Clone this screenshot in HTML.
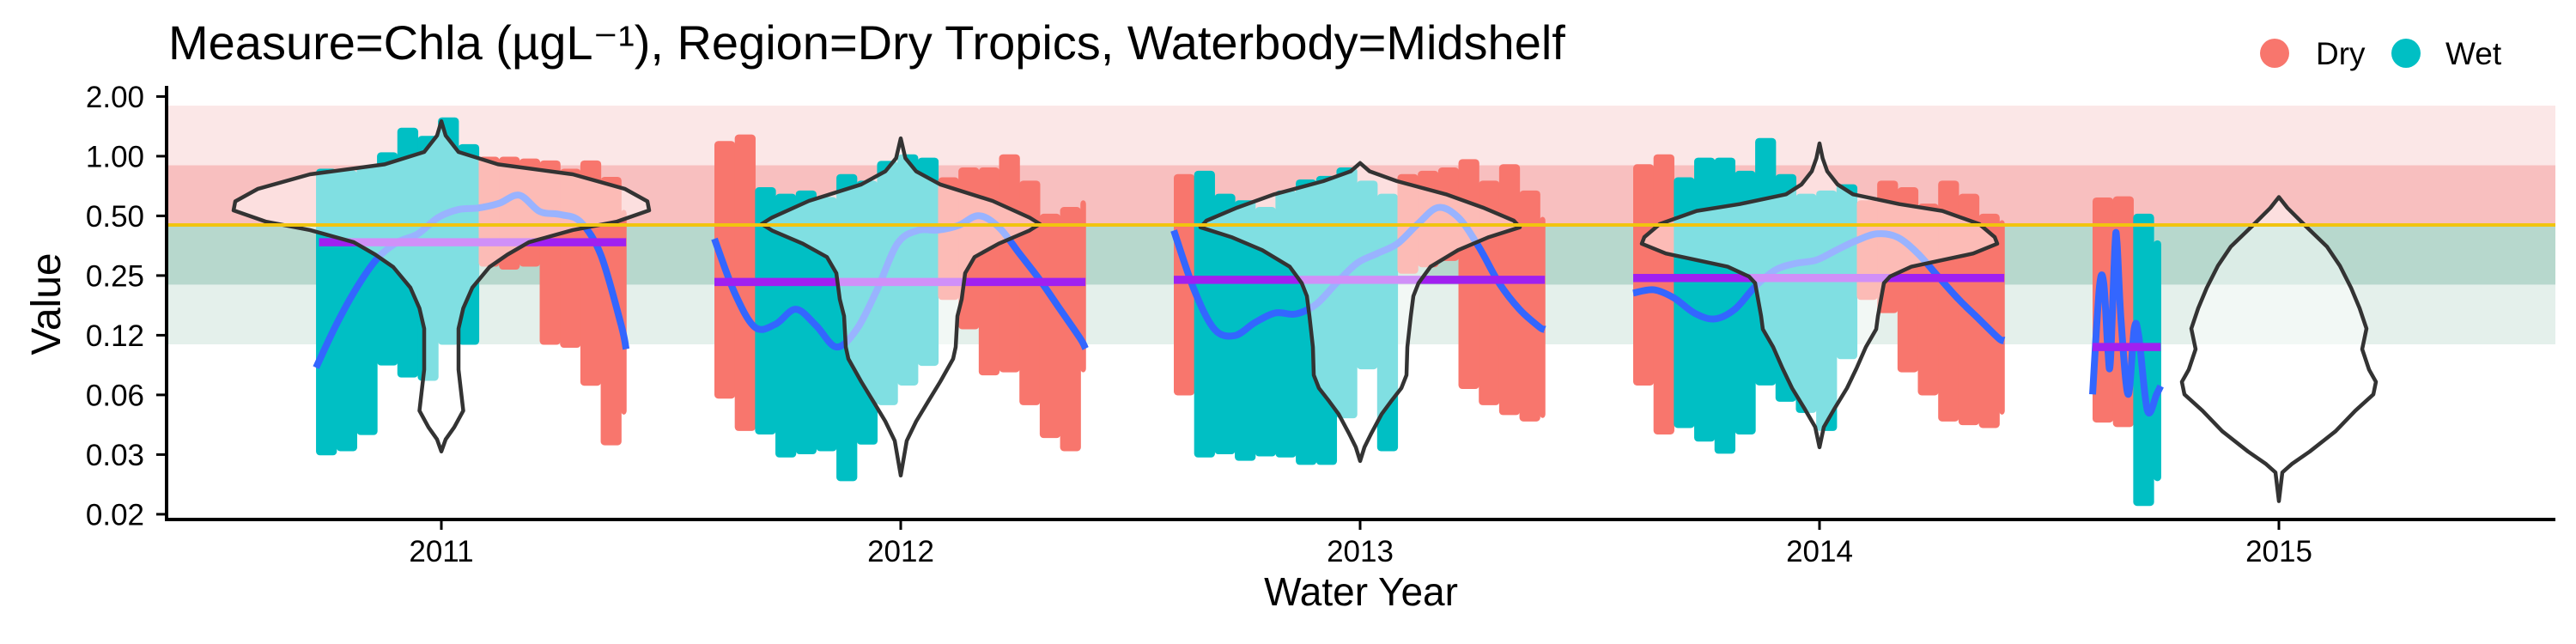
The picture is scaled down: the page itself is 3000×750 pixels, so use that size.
<!DOCTYPE html>
<html><head><meta charset="utf-8"><style>
html,body{margin:0;padding:0;background:#fff;}
svg{display:block;font-family:"Liberation Sans",Arial,sans-serif;}
</style></head><body>
<svg id="chart" width="3000" height="750" viewBox="0 0 3000 750" xmlns="http://www.w3.org/2000/svg">
<text x="196" y="69" font-size="56" fill="#000">Measure=Chla (µgL⁻¹), Region=Dry Tropics, Waterbody=Midshelf</text>
<g>
<circle cx="2649" cy="62" r="17" fill="#F8766D"/>
<text x="2697" y="75" font-size="37">Dry</text>
<circle cx="2802" cy="62" r="17" fill="#00BFC4"/>
<text x="2848" y="75" font-size="37">Wet</text>
</g>
<g id="bands"></g>
<g id="points"></g>
<g id="smooths"></g>
<g id="medians"></g>
<g id="violins"></g>
<g id="guide"></g>
<g id="axes"></g>
<text transform="translate(70,354) rotate(-90)" text-anchor="middle" font-size="48">Value</text>
<text x="1585" y="705" text-anchor="middle" font-size="46">Water Year</text>
</svg>
<script>
const years = [2011, 2012, 2013, 2014, 2015];
const yTickValues = [2, 1, 0.5, 0.25, 0.125, 0.0625, 0.03125, 0.015625];
const yTickLabels = ["2.00", "1.00", "0.50", "0.25", "0.12", "0.06", "0.03", "0.02"];
const guideValue = 0.45;
const bandLimits = [0.1125, 0.225, 0.45, 0.9, 1.8];
const binDays = 20;
const scatterStartDay = [60, 0, 0, 0, 0];
const scatterEndDay = [365, 365, 365, 365, 67];
const hi2011 = [0.827,0.81,0.855,1.0,1.33,1.21,1.50,1.1,0.95,0.95,0.93,0.91,0.827,0.91,0.752,0.513];
const lo2011 = [0.0324,0.034,0.041,0.092,0.08,0.077,0.117,0.117,0.29,0.28,0.29,0.117,0.113,0.0727,0.0364,0.052];
const season2011 = "WWWWWWWWDDDDDDDD";
const hi2012 = [1.14,1.23,0.667,0.618,0.642,0.595,0.777,0.72,0.905,0.977,0.94,0.748,0.839,0.839,0.977,0.72,0.49,0.53,0.573];
const lo2012 = [0.0626,0.043,0.0413,0.0316,0.0328,0.034,0.024,0.0367,0.058,0.0729,0.0916,0.197,0.14,0.082,0.085,0.058,0.0396,0.034,0.085];
const season2012 = "DDWWWWWWWWWDDDDDDDD";
const hi2013 = [0.777,0.807,0.618,0.573,0.53,0.642,0.73,0.76,0.839,0.72,0.618,0.777,0.807,0.839,0.923,0.72,0.871,0.642,0.473];
const lo2013 = [0.065,0.0316,0.0328,0.0304,0.032,0.0316,0.029,0.029,0.0498,0.088,0.034,0.267,0.288,0.31,0.07,0.058,0.0517,0.048,0.05];
const season2013 = "DWWWWWWWWWWDDDDDDDD";
const hi2014 = [0.871,0.977,0.748,0.94,0.94,0.807,1.18,0.777,0.618,0.642,0.69,0.573,0.72,0.667,0.551,0.72,0.618,0.49,0.455];
const lo2014 = [0.0729,0.0413,0.0445,0.038,0.033,0.0413,0.073,0.0604,0.053,0.043,0.099,0.197,0.169,0.085,0.065,0.048,0.046,0.0445,0.052];
const season2014 = "DDWWWWWWWWWDDDDDDDD";
const hi2015 = [0.592,0.6,0.49,0.36];
const lo2015 = [0.0474,0.045,0.018,0.024];
const season2015 = "DDWW";
const smoothDays2011 = [60,80,100,120,140,160,180,200,220,240,260,280,300,320,340,360,365];
const smoothVals2011 = [0.0858,0.1416,0.217,0.304,0.368,0.405,0.49,0.538,0.548,0.578,0.636,0.526,0.508,0.467,0.319,0.1416,0.1064];
const smoothDaysFull = [0,20,40,60,80,100,120,140,160,180,200,220,240,260,280,300,320,340,360,365];
const smoothVals2012 = [0.383,0.204,0.137,0.142,0.169,0.14,0.109,0.134,0.212,0.362,0.422,0.424,0.447,0.501,0.437,0.323,0.238,0.169,0.12,0.107];
const smoothVals2013 = [0.422,0.212,0.134,0.1245,0.145,0.162,0.16,0.179,0.229,0.288,0.323,0.362,0.455,0.551,0.49,0.349,0.229,0.169,0.137,0.134];
const smoothVals2014 = [0.204,0.212,0.193,0.162,0.151,0.169,0.22,0.267,0.288,0.299,0.336,0.376,0.406,0.39,0.323,0.247,0.19,0.151,0.12,0.118];
const smoothDays2015 = [0,6.7,11,15,17.5,22,24,28,35,41,45.5,54,63,67];
const smoothVals2015 = [0.0629,0.217,0.228,0.1064,0.092,0.35,0.368,0.1486,0.0629,0.135,0.123,0.052,0.063,0.0693];
const medians = [0.368, 0.232, 0.238, 0.243, 0.109];
const medianStartDay = [63, 0, 0, 0, 0];
const medianEndDay = [365, 365, 365, 365, 67];
const violinLevels2011 = [1.50,1.27,1.05,0.91,0.81,0.683,0.592,0.533,0.467,0.424,0.368,0.319,0.276,0.217,0.171,0.135,0.0838,0.052,0.0429,0.0373,0.0324];
const violinDens2011 = [0,0.05,0.2,0.66,1.53,2.14,2.4,2.42,2.04,1.53,1.02,0.77,0.56,0.36,0.255,0.2,0.2,0.255,0.15,0.05,0];
const violinLevels2012 = [1.23,0.977,0.839,0.72,0.595,0.49,0.455,0.422,0.362,0.31,0.257,0.19,0.156,0.109,0.095,0.0729,0.058,0.046,0.0367,0.0245];
const violinDens2012 = [0,0.054,0.179,0.46,1.07,1.5,1.62,1.5,1.14,0.86,0.75,0.71,0.66,0.64,0.61,0.46,0.32,0.18,0.07,0];
const violinLevels2013 = [0.923,0.839,0.748,0.642,0.551,0.473,0.438,0.391,0.336,0.277,0.229,0.197,0.156,0.109,0.0787,0.0676,0.058,0.05,0.0396,0.034,0.029];
const violinDens2013 = [0,0.11,0.43,1.0,1.43,1.79,1.86,1.5,1.14,0.82,0.68,0.62,0.59,0.55,0.54,0.48,0.36,0.25,0.125,0.05,0];
const violinLevels2014 = [1.16,0.977,0.839,0.72,0.642,0.573,0.53,0.455,0.391,0.362,0.323,0.277,0.247,0.229,0.156,0.134,0.109,0.085,0.0676,0.0538,0.043,0.034];
const violinDens2014 = [0,0.036,0.09,0.21,0.39,0.93,1.43,1.86,2.04,2.07,1.79,1.07,0.82,0.75,0.68,0.66,0.54,0.43,0.32,0.18,0.05,0];
const violinLevels2015 = [0.622,0.548,0.445,0.35,0.28,0.217,0.171,0.135,0.1064,0.0838,0.0727,0.0629,0.052,0.041,0.0324,0.028,0.0254,0.0182];
const violinDens2015 = [0,0.1,0.31,0.56,0.71,0.84,0.94,1.02,0.97,1.05,1.13,1.1,0.89,0.66,0.36,0.15,0.04,0];

const NS = "http://www.w3.org/2000/svg";
const plotL = 194, plotR = 2976, axisY = 605, axisTop = 100;
function yv(v){ return 112.4 + 69.5 * Math.log2(2 / v); }
function xc(i){ return 514 + 535 * i; }
function xd(i, d){ return xc(i) - 217 + 1.184 * d; }
function mk(tag, attrs, parent){ const e = document.createElementNS(NS, tag); for (const k in attrs) e.setAttribute(k, attrs[k]); parent.appendChild(e); return e; }
const WET = "#00BFC4", DRY = "#F8766D";

const bandColors = ["#e4f0eb", "#b7d8cd", "#f8bfbf", "#fbe7e7"];
const gB = document.getElementById("bands");
for (let b = 0; b < 4; b++) {
  const r = mk("rect", {x: plotL, y: yv(bandLimits[b+1]), width: plotR - plotL, height: yv(bandLimits[b]) - yv(bandLimits[b+1]), fill: bandColors[b]}, gB);
  
  
}

const his = [hi2011, hi2012, hi2013, hi2014, hi2015];
const los = [lo2011, lo2012, lo2013, lo2014, lo2015];
const seasons = [season2011, season2012, season2013, season2014, season2015];
const gP = document.getElementById("points");
years.forEach((yr, i) => {
  his[i].forEach((h, j) => {
    const d0 = scatterStartDay[i] + j * binDays;
    const d1 = Math.min(d0 + binDays, scatterEndDay[i]);
    const x0 = xd(i, d0), x1 = xd(i, d1);
    const r = mk("rect", {x: x0, y: yv(h) - 4.5, width: x1 - x0 + 0.6, height: yv(los[i][j]) - yv(h) + 9, rx: 4.5, fill: seasons[i][j] === "W" ? WET : DRY}, gP);
    
    
  });
});

function curve(pts){
  let p = "M" + pts[0][0] + "," + pts[0][1];
  for (let k = 0; k < pts.length - 1; k++) {
    const p0 = pts[Math.max(0,k-1)], p1 = pts[k], p2 = pts[k+1], p3 = pts[Math.min(pts.length-1,k+2)];
    const c1x = p1[0] + (p2[0]-p0[0])/6, c1y = p1[1] + (p2[1]-p0[1])/6;
    const c2x = p2[0] - (p3[0]-p1[0])/6, c2y = p2[1] - (p3[1]-p1[1])/6;
    p += " C" + c1x + "," + c1y + " " + c2x + "," + c2y + " " + p2[0] + "," + p2[1];
  }
  return p;
}
const sDays = [smoothDays2011, smoothDaysFull, smoothDaysFull, smoothDaysFull, smoothDays2015];
const sVals = [smoothVals2011, smoothVals2012, smoothVals2013, smoothVals2014, smoothVals2015];
const gS = document.getElementById("smooths");
years.forEach((yr, i) => {
  const pts = sDays[i].map((d, k) => [xd(i, d), yv(sVals[i][k])]);
  const p = mk("path", {d: curve(pts), fill: "none", stroke: "#3366FF", "stroke-width": 8}, gS);
  
  
});

const gM = document.getElementById("medians");
years.forEach((yr, i) => {
  const l = mk("line", {x1: xd(i, medianStartDay[i]), x2: xd(i, medianEndDay[i]), y1: yv(medians[i]), y2: yv(medians[i]), stroke: "#A020F0", "stroke-width": 9.5}, gM);
  
  
});

const vLev = [violinLevels2011, violinLevels2012, violinLevels2013, violinLevels2014, violinLevels2015];
const vDen = [violinDens2011, violinDens2012, violinDens2013, violinDens2014, violinDens2015];
const gV = document.getElementById("violins");
const violinScale = 100;
years.forEach((yr, i) => {
  const c = xc(i);
  const right = vLev[i].map((v, k) => [c + vDen[i][k] * violinScale, yv(v)]);
  const left = vLev[i].map((v, k) => [c - vDen[i][k] * violinScale, yv(v)]).reverse();
  const pts = right.concat(left);
  let d = "M" + pts.map(p => p[0].toFixed(1) + "," + p[1].toFixed(1)).join(" L") + " Z";
  const p = mk("path", {d: d, fill: "rgba(255,255,255,0.5)", stroke: "#333", "stroke-width": 4.5, "stroke-linejoin": "round"}, gV);
  
  
});

const gG = document.getElementById("guide");
const gl = mk("line", {x1: plotL, x2: plotR, y1: yv(guideValue), y2: yv(guideValue), stroke: "#F1C40F", "stroke-width": 4}, gG);



const gA = document.getElementById("axes");
const ya = mk("line", {x1: plotL, x2: plotL, y1: axisTop, y2: axisY + 2, stroke: "#000", "stroke-width": 4}, gA);


const xa = mk("line", {x1: plotL - 2, x2: plotR, y1: axisY, y2: axisY, stroke: "#000", "stroke-width": 4}, gA);


yTickValues.forEach((v, k) => {
  const y = yv(v);
  const t = mk("line", {x1: plotL - 12, x2: plotL, y1: y, y2: y, stroke: "#000", "stroke-width": 3}, gA);
  
  
  const tx = mk("text", {x: 168, y: y + 12.5, "text-anchor": "end", "font-size": 35, fill: "#000"}, gA);
  tx.textContent = yTickLabels[k];
  
  
});
years.forEach((yr, i) => {
  const x = xc(i);
  const t = mk("line", {x1: x, x2: x, y1: axisY, y2: axisY + 12, stroke: "#000", "stroke-width": 3}, gA);
  
  
  const tx = mk("text", {x: x, y: 654, "text-anchor": "middle", "font-size": 35, fill: "#000"}, gA);
  tx.textContent = String(yr);
  
  
});
</script>
</body></html>
